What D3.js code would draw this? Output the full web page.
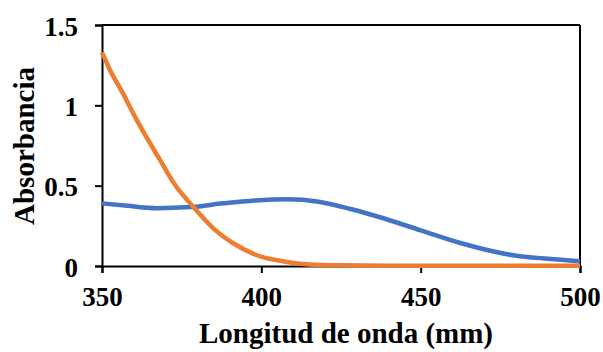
<!DOCTYPE html>
<html>
<head>
<meta charset="utf-8">
<script src="https://cdn.jsdelivr.net/npm/d3@7"></script>
<style>
  body { margin: 0; background: #fff; }
  text { font-family: "Liberation Serif", "Times New Roman", serif; font-weight: bold; }
</style>
</head>
<body>
<div class="chart"></div>
<script>
// wavelength (nm) and absorbance
const wlBlue = [350, 358, 367, 378, 388, 398, 408, 418, 428, 437, 450, 463, 479, 490, 500];
const absBlue = [0.39, 0.375, 0.36, 0.367, 0.39, 0.408, 0.415, 0.4, 0.355, 0.305, 0.222, 0.14, 0.067, 0.045, 0.03];

const wlOrange = [350, 352.5, 356.7, 359.8, 364, 368.2, 372.4, 378.7, 385, 391.3, 398.6, 408, 415, 425, 440, 470, 500];
const absOrange = [1.33, 1.22, 1.07, 0.95, 0.8, 0.66, 0.52, 0.367, 0.233, 0.14, 0.067, 0.025, 0.01, 0.004, 0.002, 0.001, 0.001];

const xTicks = [350, 400, 450, 500];
const yTicks = [0, 0.5, 1, 1.5];

const width = 603, height = 352;
const margin = {left: 102, right: 23, top: 25, bottom: 86};

const svg = d3.select(".chart").append("svg")
    .attr("width", width)
    .attr("height", height);

const x = d3.scaleLinear().domain([350, 500]).range([margin.left, width - margin.right]);
const y = d3.scaleLinear().domain([0, 1.5]).range([height - margin.bottom, margin.top]);

// plot border (top + right)
svg.append("line")
    .attr("x1", x(350)).attr("x2", x(500))
    .attr("y1", y(1.5)).attr("y2", y(1.5))
    .attr("stroke", "#000").attr("stroke-width", 2);
svg.append("line")
    .attr("x1", x(500)).attr("x2", x(500))
    .attr("y1", y(1.5)).attr("y2", y(0))
    .attr("stroke", "#000").attr("stroke-width", 2);

const xAxis = svg.append("g")
    .attr("transform", `translate(0,${y(0)})`)
    .call(d3.axisBottom(x).tickValues(xTicks).tickSize(7).tickPadding(14).tickFormat(d3.format("d")));
const yAxis = svg.append("g")
    .attr("transform", `translate(${x(350)},0)`)
    .call(d3.axisLeft(y).tickValues(yTicks).tickSize(7).tickPadding(17).tickFormat(d => d));
yAxis.selectAll(".tick text").attr("dy", "0.37em");

[xAxis, yAxis].forEach(g => {
  g.select(".domain").attr("stroke", "#000").attr("stroke-width", 2);
  g.selectAll(".tick line").attr("stroke", "#000").attr("stroke-width", 2);
  g.selectAll(".tick text")
    .attr("fill", "#000")
    .style("font-size", "27px")
    .style("font-family", '"Liberation Serif", serif')
    .style("font-weight", "bold");
});

const line = d3.line()
    .x(d => x(d[0]))
    .y(d => y(d[1]))
    .curve(d3.curveMonotoneX);

svg.append("path")
    .datum(d3.zip(wlBlue, absBlue))
    .attr("d", line)
    .attr("fill", "none")
    .attr("stroke", "#4472C4")
    .attr("stroke-width", 4.5);

svg.append("path")
    .datum(d3.zip(wlOrange, absOrange))
    .attr("d", line)
    .attr("fill", "none")
    .attr("stroke", "#ED7D31")
    .attr("stroke-width", 4.5);

svg.append("text")
    .attr("x", 346)
    .attr("y", 343)
    .attr("text-anchor", "middle")
    .style("font-size", "29px")
    .text("Longitud de onda (mm)");

svg.append("text")
    .attr("transform", "translate(33.5,146) rotate(-90)")
    .attr("text-anchor", "middle")
    .style("font-size", "29px")
    .text("Absorbancia");
</script>
</body>
</html>
